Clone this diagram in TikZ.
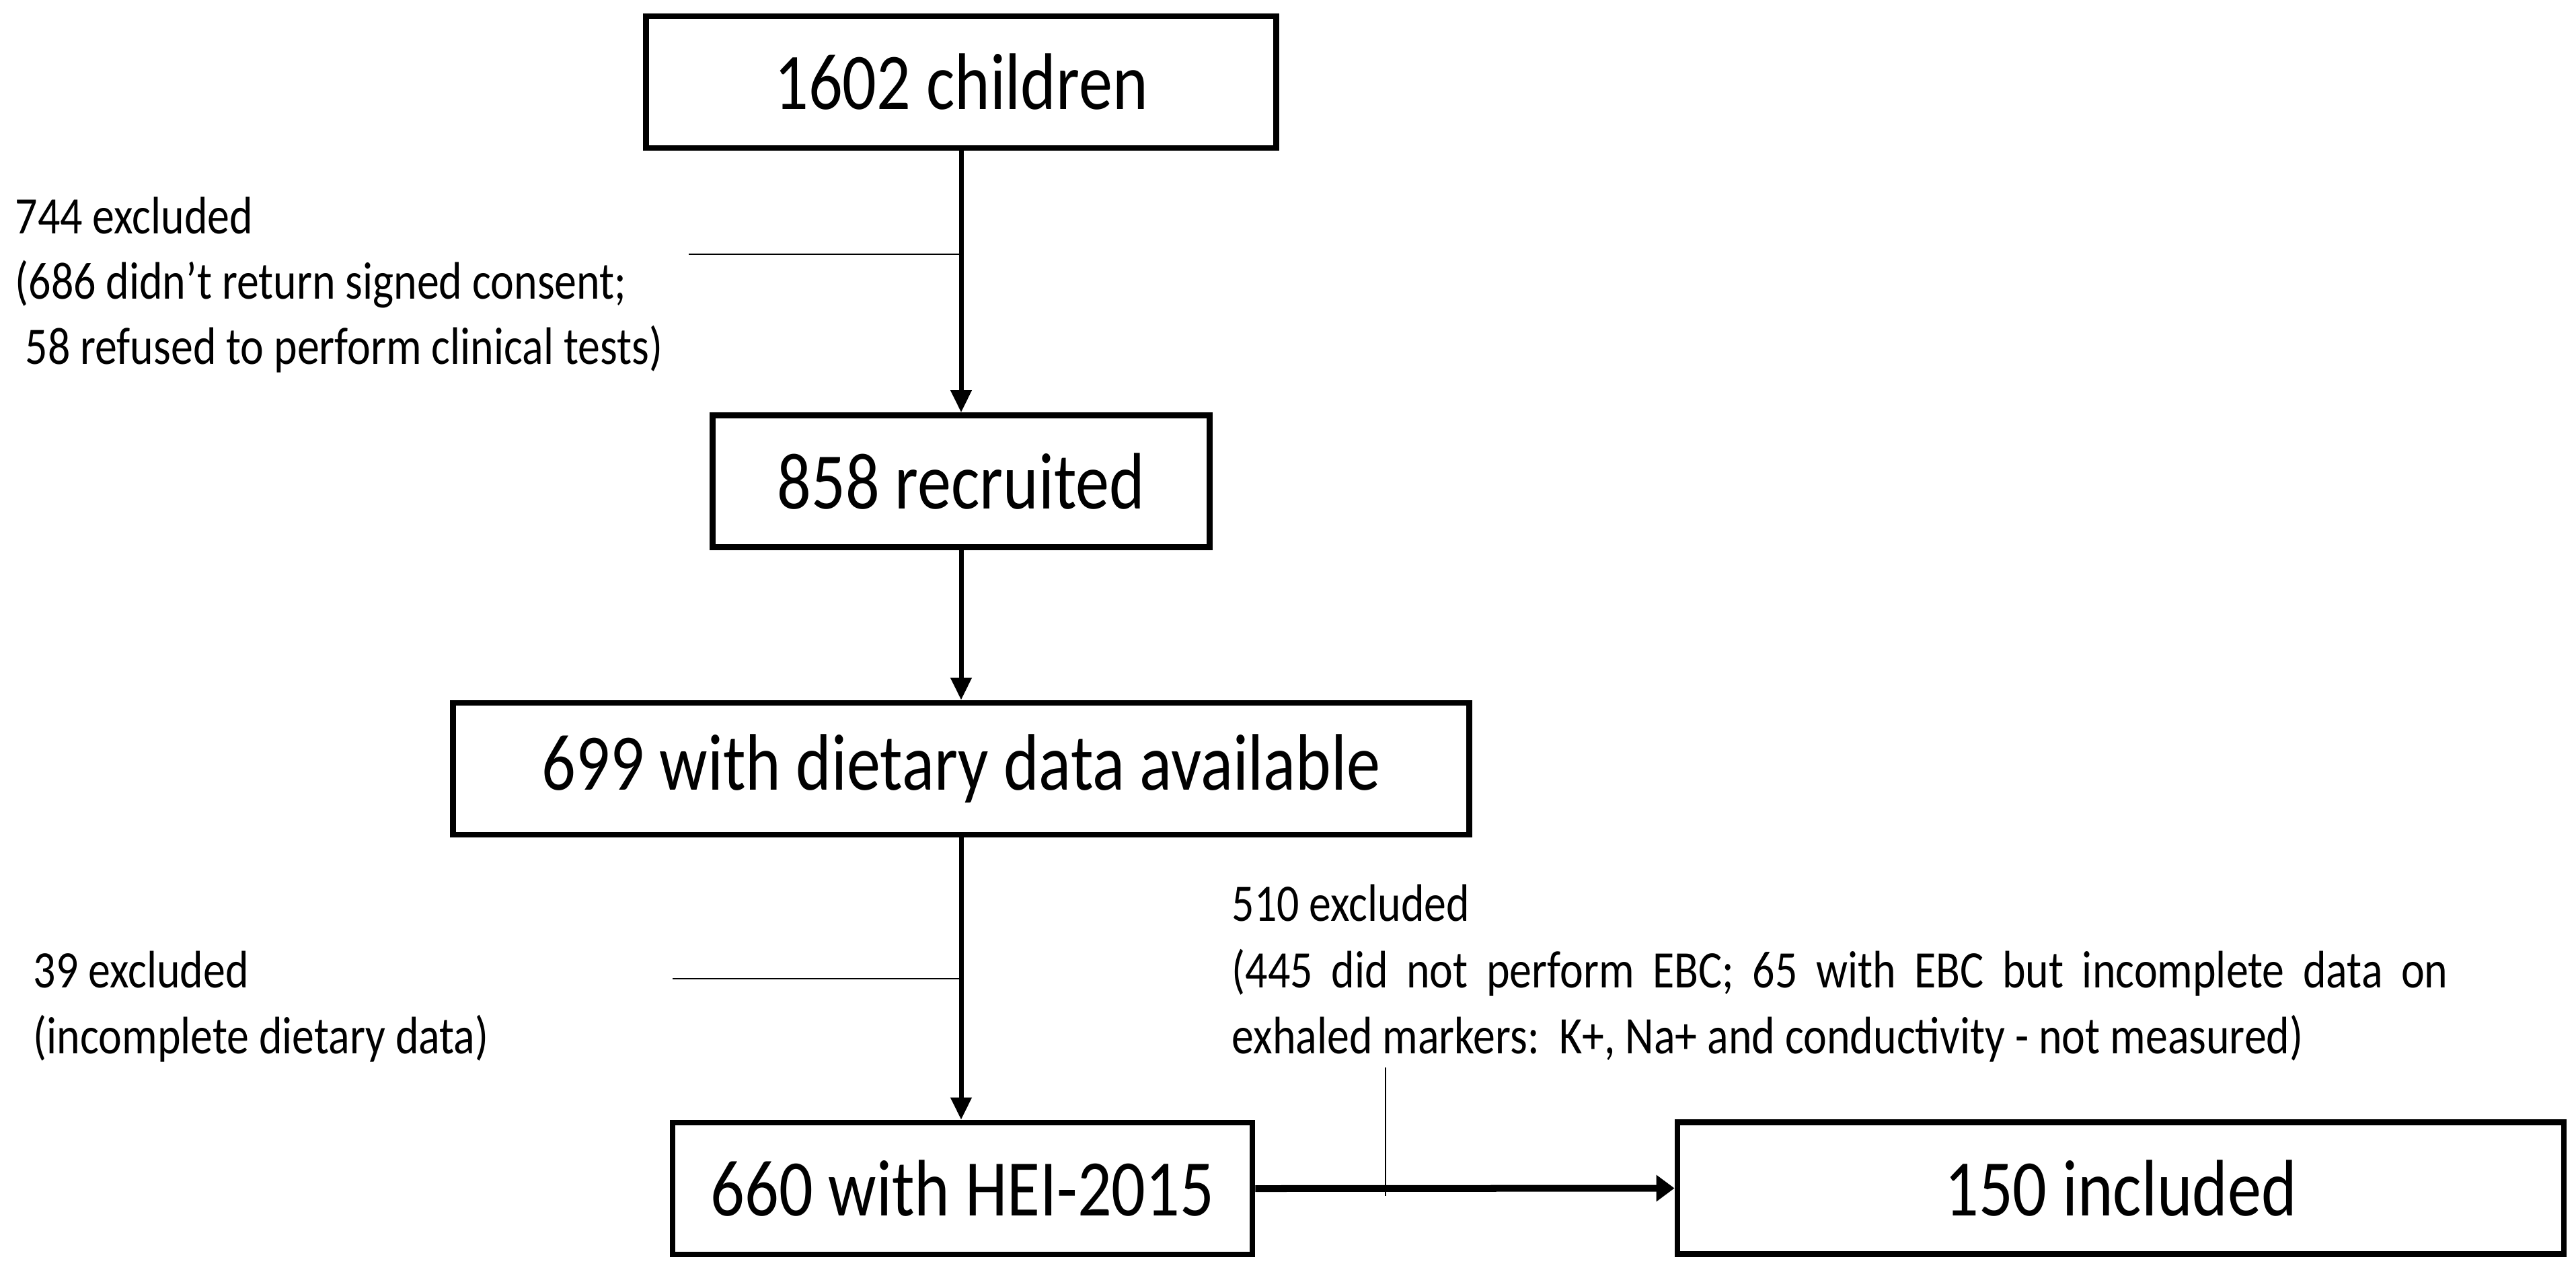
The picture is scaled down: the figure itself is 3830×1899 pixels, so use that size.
\documentclass[tikz,border=0pt]{standalone}
\usepackage{fontspec}
\setmainfont{Carlito}[FakeStretch=0.84]
\usetikzlibrary{arrows.meta}
\newcommand\bigf{\fontsize{33.9pt}{40pt}\selectfont}
\newcommand\smallf{\fontsize{22.3pt}{27.6pt}\selectfont}
\tikzset{
  box/.style={draw, line width=0.085cm, minimum height=1.96cm, inner sep=0pt, font=\bigf},
  varr/.style={line width=0.07cm, -{Triangle[length=0.33cm,width=0.3cm]}},
  harr/.style={line width=0.1cm, -{Triangle[length=0.27cm,width=0.38cm]}},
  tick/.style={line width=0.025cm},
  lab/.style={anchor=base west, inner sep=0pt, font=\smallf}
}
\begin{document}
\begin{tikzpicture}[x=0.01cm,y=-0.01cm]
\useasboundingbox (0,0) rectangle (3830,1899);
\node[box, minimum width=9.365cm] (b1) at (1429,122) {1602 children};
\node[box, minimum width=7.385cm] (b2) at (1429,715.5) {858 recruited};
\node[box, minimum width=15.105cm] (b3) at (1429,1143) {699 with dietary data available};
\node[box, minimum width=8.615cm] (b4) at (1431,1767) {660 with HEI-2015};
\node[box, minimum width=13.175cm] (b5) at (3153,1766.5) {150 included};

\draw[varr] (b1.south) -- (b2.north);
\draw[varr] (b2.south) -- (b3.north);
\draw[varr] (b3.south) -- (b4.north -| b3.south);
\draw[harr] (b4.east) -- (b5.west);

\coordinate (e1) at (1024,378);
\coordinate (e2) at (1000,1455);
\coordinate (e3) at (2060,1587);
\draw[tick] (e1) -- (e1 -| b1.south);
\draw[tick] (e2) -- (e2 -| b3.south);
\draw[tick] (e3) -- ++(0,191);

\node[lab] (t1a) at (22,347) {744 excluded};
\node[lab] (t1b) at (22,444) {(686 didn’t return signed consent;};
\node[lab] (t1c) at (37,541) {58 refused to perform clinical tests)};

\node[lab] (t2a) at (49,1468) {39 excluded};
\node[lab] (t2b) at (49,1566) {(incomplete dietary data)};

\node[lab] (t3a) at (1831,1369) {510 excluded};
\node[lab] (t3b) at (1831,1468) {\makebox[18.07cm][s]{(445 did not perform EBC; 65 with EBC but incomplete data on}};
\node[lab] (t3c) at (1831,1566) {exhaled markers:\ \ K+, Na+ and conductivity - not measured)};
\end{tikzpicture}
\end{document}
